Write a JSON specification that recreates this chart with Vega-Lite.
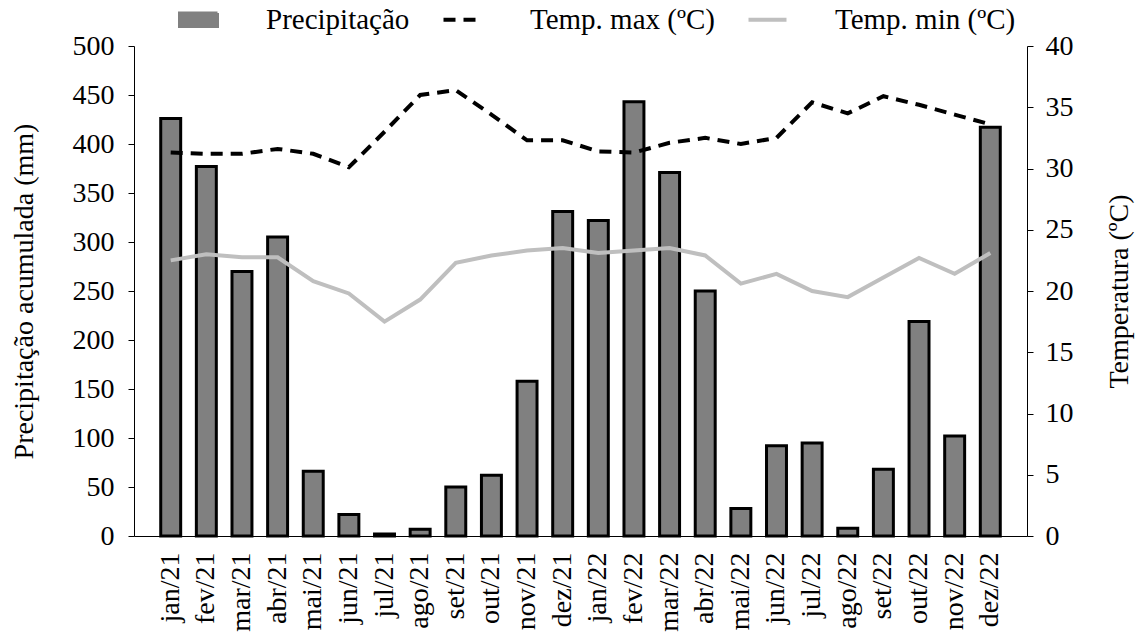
{
  "$schema": "https://vega.github.io/schema/vega-lite/v6.json",
  "width": 893,
  "height": 490,
  "autosize": "none",
  "padding": {"left": 134, "top": 46, "right": 110, "bottom": 96},
  "background": "white",
  "config": {
    "view": {"stroke": null},
    "font": "Liberation Serif",
    "axis": {
      "grid": false,
      "domainColor": "black",
      "tickColor": "black",
      "labelColor": "black",
      "titleColor": "black",
      "labelFont": "Liberation Serif",
      "titleFont": "Liberation Serif",
      "labelFontSize": 28,
      "titleFontSize": 28,
      "titleFontWeight": "normal"
    },
    "legend": {"labelFont": "Liberation Serif", "labelFontSize": 29, "labelColor": "black", "labelLimit": 400}
  },
  "data": {
    "values": [
      {"mes": "jan/21", "precip": 426, "tmax": 31.3, "tmin": 22.5},
      {"mes": "fev/21", "precip": 377, "tmax": 31.2, "tmin": 23.0},
      {"mes": "mar/21", "precip": 270, "tmax": 31.2, "tmin": 22.75},
      {"mes": "abr/21", "precip": 305, "tmax": 31.6, "tmin": 22.75},
      {"mes": "mai/21", "precip": 66, "tmax": 31.2, "tmin": 20.8},
      {"mes": "jun/21", "precip": 22, "tmax": 30.1, "tmin": 19.8},
      {"mes": "jul/21", "precip": 2, "tmax": 33.0, "tmin": 17.5},
      {"mes": "ago/21", "precip": 7, "tmax": 36.0, "tmin": 19.3},
      {"mes": "set/21", "precip": 50, "tmax": 36.4, "tmin": 22.3},
      {"mes": "out/21", "precip": 62, "tmax": 34.4, "tmin": 22.9},
      {"mes": "nov/21", "precip": 158, "tmax": 32.3, "tmin": 23.3},
      {"mes": "dez/21", "precip": 331, "tmax": 32.3, "tmin": 23.5},
      {"mes": "jan/22", "precip": 322, "tmax": 31.4, "tmin": 23.1},
      {"mes": "fev/22", "precip": 443, "tmax": 31.3, "tmin": 23.3},
      {"mes": "mar/22", "precip": 371, "tmax": 32.1, "tmin": 23.5},
      {"mes": "abr/22", "precip": 250, "tmax": 32.5, "tmin": 22.9},
      {"mes": "mai/22", "precip": 28, "tmax": 32.0, "tmin": 20.6},
      {"mes": "jun/22", "precip": 92, "tmax": 32.5, "tmin": 21.4},
      {"mes": "jul/22", "precip": 95, "tmax": 35.4, "tmin": 20.0},
      {"mes": "ago/22", "precip": 8, "tmax": 34.5, "tmin": 19.5},
      {"mes": "set/22", "precip": 68, "tmax": 35.9, "tmin": 21.1},
      {"mes": "out/22", "precip": 219, "tmax": 35.2, "tmin": 22.7},
      {"mes": "nov/22", "precip": 102, "tmax": 34.4, "tmin": 21.4},
      {"mes": "dez/22", "precip": 417, "tmax": 33.6, "tmin": 23.1}
    ]
  },
  "encoding": {
    "x": {
      "field": "mes",
      "type": "nominal",
      "sort": null,
      "scale": {"paddingInner": 0.44, "paddingOuter": 0.75},
      "axis": {
        "title": null,
        "labelAngle": -90,
        "ticks": false,
        "tickSize": 0,
        "labelPadding": 16
      }
    }
  },
  "layer": [
    {
      "mark": {"type": "bar", "stroke": "black", "strokeWidth": 3},
      "encoding": {
        "y": {
          "field": "precip",
          "type": "quantitative",
          "scale": {"domain": [0, 500], "nice": false},
          "axis": {
            "title": "Precipitação acumulada (mm)",
            "values": [0, 50, 100, 150, 200, 250, 300, 350, 400, 450, 500],
            "tickSize": 6,
            "labelPadding": 14,
            "titlePadding": 34
          }
        },
        "color": {
          "datum": "Precipitação",
          "type": "nominal",
          "scale": {
            "domain": ["Precipitação", "Temp. max (ºC)", "Temp. min (ºC)"],
            "range": ["#808080", "#000000", "#BFBFBF"]
          },
          "legend": {
            "title": null,
            "orient": "none",
            "direction": "horizontal",
            "legendX": 50,
            "legendY": -41,
            "padding": 0,
            "symbolSize": 1444,
            "labelOffset": 53,
            "columnPadding": 25,
            "labelLimit": 400,
            "encode": {
              "symbols": {
                "update": {
                  "shape": {"signal": "datum.value === 'Precipitação' ? 'M-1,-0.36H1V0.36H-1Z' : 'stroke'"},
                  "fill": {"signal": "datum.value === 'Precipitação' ? '#808080' : 'transparent'"},
                  "stroke": {"signal": "datum.value === 'Temp. min (ºC)' ? '#BFBFBF' : 'black'"},
                  "strokeWidth": {"signal": "datum.value === 'Precipitação' ? 3 : 4"},
                  "strokeDash": {"signal": "datum.value === 'Temp. max (ºC)' ? [12, 8] : [1, 0]"},
                  "opacity": {"value": 1}
                }
              }
            }
          }
        }
      }
    },
    {
      "layer": [
        {
          "mark": {"type": "line", "strokeWidth": 4, "strokeDash": [12, 8]},
          "encoding": {
            "y": {
              "field": "tmax",
              "type": "quantitative",
              "scale": {"domain": [0, 40], "nice": false},
              "axis": {
                "orient": "right",
                "title": "Temperatura (ºC)",
                "titleAngle": 270,
                "values": [0, 5, 10, 15, 20, 25, 30, 35, 40],
                "tickSize": 6,
                "labelPadding": 12,
                "titlePadding": 60
              }
            },
            "color": {
              "datum": "Temp. max (ºC)",
              "type": "nominal",
              "legend": {
                "title": null,
                "orient": "none",
                "direction": "horizontal",
                "legendX": 50,
                "legendY": -41,
                "padding": 0,
                "symbolSize": 1444,
                "labelOffset": 53,
                "columnPadding": 25,
                "labelLimit": 400,
                "encode": {
                  "symbols": {
                    "update": {
                      "shape": {"signal": "datum.value === 'Precipitação' ? 'M-1,-0.36H1V0.36H-1Z' : 'stroke'"},
                      "fill": {"signal": "datum.value === 'Precipitação' ? '#808080' : 'transparent'"},
                      "stroke": {"signal": "datum.value === 'Temp. min (ºC)' ? '#BFBFBF' : 'black'"},
                      "strokeWidth": {"signal": "datum.value === 'Precipitação' ? 3 : 4"},
                      "strokeDash": {"signal": "datum.value === 'Temp. max (ºC)' ? [12, 8] : [1, 0]"},
                      "opacity": {"value": 1}
                    }
                  }
                }
              }
            }
          }
        },
        {
          "mark": {"type": "line", "strokeWidth": 4},
          "encoding": {
            "y": {
              "field": "tmin",
              "type": "quantitative",
              "axis": {
                "orient": "right",
                "title": "Temperatura (ºC)",
                "titleAngle": 270,
                "values": [0, 5, 10, 15, 20, 25, 30, 35, 40],
                "tickSize": 6,
                "labelPadding": 12,
                "titlePadding": 60
              }
            },
            "color": {
              "datum": "Temp. min (ºC)",
              "type": "nominal",
              "legend": {
                "title": null,
                "orient": "none",
                "direction": "horizontal",
                "legendX": 50,
                "legendY": -41,
                "padding": 0,
                "symbolSize": 1444,
                "labelOffset": 53,
                "columnPadding": 25,
                "labelLimit": 400,
                "encode": {
                  "symbols": {
                    "update": {
                      "shape": {"signal": "datum.value === 'Precipitação' ? 'M-1,-0.36H1V0.36H-1Z' : 'stroke'"},
                      "fill": {"signal": "datum.value === 'Precipitação' ? '#808080' : 'transparent'"},
                      "stroke": {"signal": "datum.value === 'Temp. min (ºC)' ? '#BFBFBF' : 'black'"},
                      "strokeWidth": {"signal": "datum.value === 'Precipitação' ? 3 : 4"},
                      "strokeDash": {"signal": "datum.value === 'Temp. max (ºC)' ? [12, 8] : [1, 0]"},
                      "opacity": {"value": 1}
                    }
                  }
                }
              }
            }
          }
        }
      ]
    }
  ],
  "resolve": {"scale": {"y": "independent"}}
}
